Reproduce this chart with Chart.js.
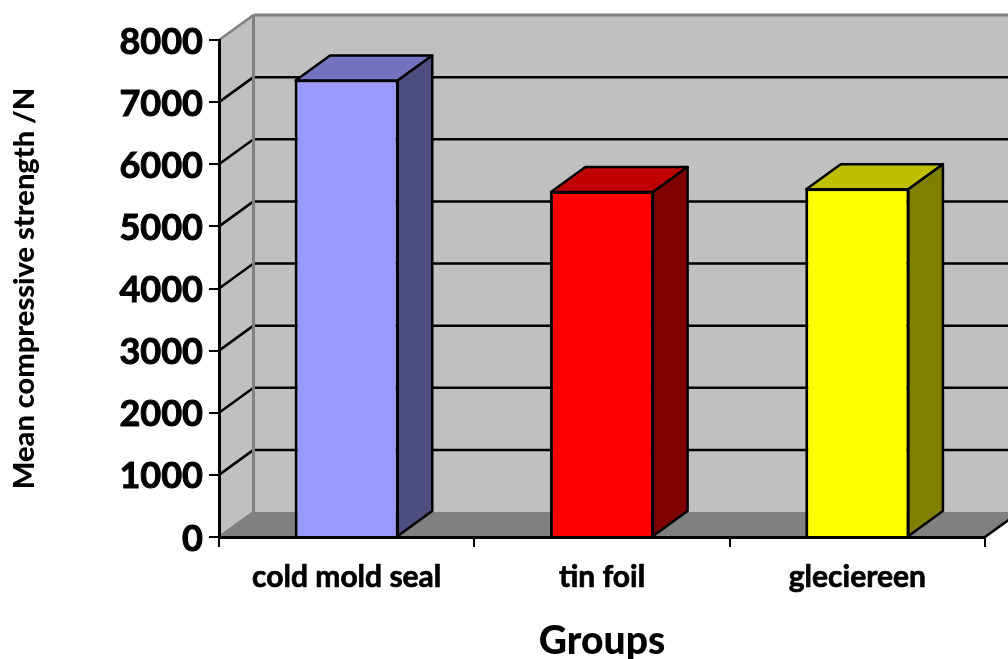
<!DOCTYPE html>
<html>
<head>
<meta charset="utf-8">
<style>
  html, body { margin: 0; padding: 0; background: #fff; overflow: hidden; }
  canvas { display: block; }
</style>
<script src="https://cdn.jsdelivr.net/npm/chart.js@4/dist/chart.umd.min.js"></script>
</head>
<body>
<canvas id="chart" width="1008" height="659"></canvas>
<script>
const categories = ['cold mold seal', 'tin foil', 'gleciereen'];
const strengths = [7365, 5570, 5615];
const frontColors = ['#9999FF', '#FF0000', '#FFFF00'];
const topColors = ['#7373BF', '#BF0000', '#BFBF00'];
const sideColors = ['#4D4D80', '#800000', '#808000'];
const yTicks = [0, 1000, 2000, 3000, 4000, 5000, 6000, 7000, 8000];

const DX = 34.5;
const DY = 25;

function poly(ctx, pts, fill, stroke, width) {
  ctx.beginPath();
  pts.forEach((p, i) => (i ? ctx.lineTo(p[0], p[1]) : ctx.moveTo(p[0], p[1])));
  ctx.closePath();
  if (fill) { ctx.fillStyle = fill; ctx.fill(); }
  if (stroke) { ctx.strokeStyle = stroke; ctx.lineWidth = width; ctx.lineJoin = 'round'; ctx.stroke(); }
}

function line(ctx, x1, y1, x2, y2, color, width) {
  ctx.beginPath();
  ctx.moveTo(x1, y1);
  ctx.lineTo(x2, y2);
  ctx.strokeStyle = color;
  ctx.lineWidth = width;
  ctx.stroke();
}

// back wall, side wall and floor sit behind the axes
const walls = {
  id: 'walls',
  beforeDraw(chart) {
    const { ctx, chartArea: { left, right }, scales: { y } } = chart;
    const top = y.getPixelForValue(8000);
    const bottom = y.getPixelForValue(0);
    ctx.save();
    poly(ctx, [[left + DX, top - DY], [right + DX, top - DY], [right + DX, bottom - DY], [left + DX, bottom - DY]], '#C0C0C0');
    poly(ctx, [[left, top], [left + DX, top - DY], [left + DX, bottom - DY], [left, bottom]], '#C0C0C0');
    poly(ctx, [[left, bottom], [left + DX, bottom - DY], [right + DX, bottom - DY], [right, bottom]], '#808080');
    yTicks.slice(1, -1).forEach((v) => {
      const py = y.getPixelForValue(v);
      line(ctx, left, py, left + DX, py - DY, '#000', 2.5);
      line(ctx, left + DX, py - DY, right + DX, py - DY, '#000', 2.5);
    });
    line(ctx, left, top, left + DX, top - DY, '#808080', 2.5);
    line(ctx, left + DX, top - DY, right + DX, top - DY, '#808080', 3);
    line(ctx, left + DX, top - DY, left + DX, bottom - DY, '#808080', 3);
    line(ctx, left, bottom, left + DX, bottom - DY, '#808080', 2.5);
    line(ctx, right, bottom, right + DX, bottom - DY, '#000', 2.5);
    ctx.restore();
  },
};

// top and side faces of each bar, taken from the bar elements
const barFaces = {
  id: 'barFaces',
  afterDatasetsDraw(chart) {
    const { ctx } = chart;
    ctx.save();
    chart.getDatasetMeta(0).data.forEach((bar, i) => {
      const l = bar.x - bar.width / 2 + 1;
      const r = bar.x + bar.width / 2 - 1;
      const t = bar.y + 1;
      poly(ctx, [[l, t], [l + DX, t - DY], [r + DX, t - DY], [r, t]], topColors[i], '#000', 2.5);
      poly(ctx, [[r, t], [r + DX, t - DY], [r + DX, bar.base - DY], [r, bar.base]], sideColors[i], '#000', 2.5);
    });
    ctx.restore();
  },
};

new Chart(document.getElementById('chart'), {
  type: 'bar',
  data: {
    labels: categories,
    datasets: [{
      data: strengths,
      backgroundColor: frontColors,
      borderColor: '#000',
      borderWidth: 3,
      categoryPercentage: 1,
      barPercentage: 0.408,
    }],
  },
  plugins: [walls, barFaces],
  options: {
    responsive: false,
    animation: false,
    layout: { padding: { top: 40, right: 23, left: 0, bottom: 0 } },
    plugins: { legend: { display: false }, tooltip: { enabled: false } },
    scales: {
      x: {
        afterFit(scale) { scale.height = 122; },
        border: { color: '#000', width: 3 },
        grid: { drawOnChartArea: false, color: '#000', lineWidth: 2, tickLength: 10, offset: true },
        ticks: { color: '#000', padding: 12, maxRotation: 0, textStrokeColor: '#000', textStrokeWidth: 0.7, font: { family: 'Lato', weight: 'bold', size: 30 } },
        title: {
          display: true,
          text: 'Groups',
          color: '#000',
          padding: { top: 0, bottom: -6 },
          font: { family: 'Lato', weight: '900', size: 39 },
        },
      },
      y: {
        min: 0,
        max: 8000,
        afterFit(scale) { scale.width = 219; },
        afterBuildTicks(scale) { scale.ticks = yTicks.map((value) => ({ value })); },
        border: { color: '#000', width: 3 },
        grid: { drawOnChartArea: false, color: '#000', lineWidth: 2, tickLength: 10 },
        ticks: { color: '#000', padding: 6, labelOffset: 2, textStrokeColor: '#000', textStrokeWidth: 1, callback: (v) => String(v), font: { family: 'Lato', weight: 'bold', size: 36 } },
        title: {
          display: true,
          text: 'Mean compressive strength /N',
          color: '#000',
          padding: { top: 7, bottom: 0 },
          font: { family: 'Lato', weight: '900', size: 29 },
        },
      },
    },
  },
});
</script>
</body>
</html>
